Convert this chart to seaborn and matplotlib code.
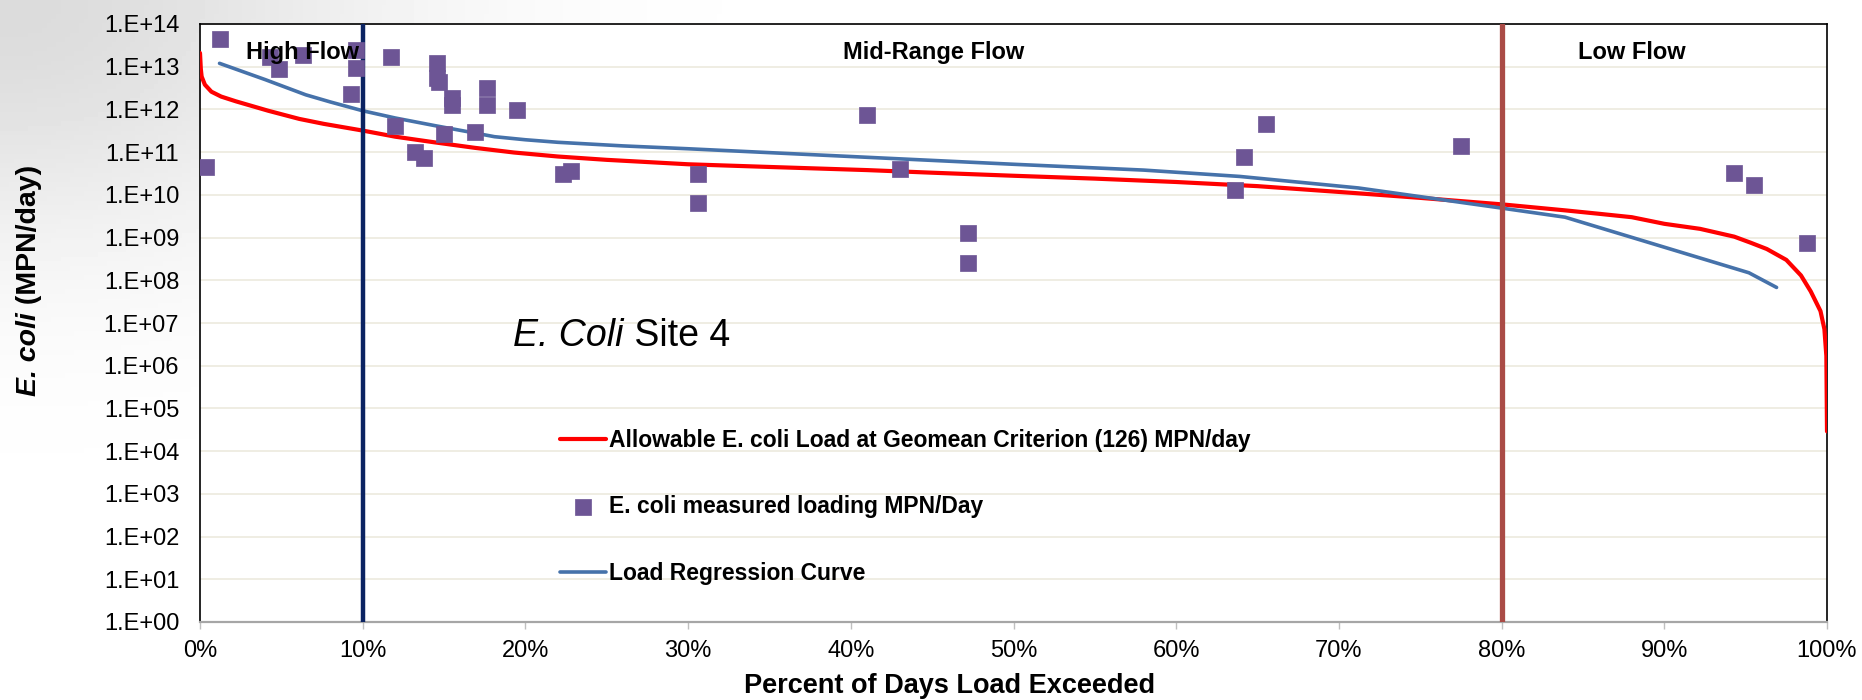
import numpy as np
import pandas as pd
import matplotlib
matplotlib.use("Agg")
import matplotlib.pyplot as plt
from matplotlib.ticker import FixedLocator, FuncFormatter, NullLocator, PercentFormatter
from matplotlib.transforms import IdentityTransform
import seaborn as sns

# measured E. coli loads: percent of days load exceeded vs MPN/day
pct_measured = [0.35, 1.22, 4.3, 4.85, 6.3, 9.3, 9.56, 9.56, 11.76, 12.0, 13.2, 13.76,
                14.56, 14.56, 14.7, 14.98, 15.5, 15.5, 16.9, 17.66, 17.66, 19.5,
                22.3, 22.8, 30.6, 30.6, 41.0, 43.0, 47.2, 47.2,
                63.6, 64.15, 65.5, 77.5, 94.3, 95.5, 98.8]
load_measured = [4.5e10, 4.4e13, 1.7e13, 8.7e12, 1.9e13, 2.3e12, 2.4e13, 9.5e12, 1.7e13, 4.2e11,
                 1.0e11, 7.2e10, 1.2e13, 5.4e12, 4.5e12, 2.6e11, 1.9e12, 1.3e12, 3.0e11, 3.2e12,
                 1.3e12, 9.5e11, 3.1e10, 3.7e10, 3.1e10, 6.6e9, 7.4e11, 4.0e10, 1.3e9, 2.5e8,
                 1.3e10, 7.9e10, 4.6e11, 1.4e11, 3.2e10, 1.7e10, 7.6e8]

# allowable load curve (geomean criterion 126)
pct_allow = [0, 0.05, 0.1, 0.3, 0.7, 1.3, 2.2, 4.2, 6.1, 7.6, 10, 12, 14.4, 16.9, 19.3, 22,
             25, 30, 35, 41, 45, 50, 55, 60, 65, 71, 75, 80, 84, 86, 88, 90, 92.2, 94.3,
             95.3, 96.3, 97.5, 98.4, 99.0, 99.6, 99.84, 99.96, 100]
load_allow = [2.1e13, 8.9e12, 5.9e12, 3.8e12, 2.6e12, 2.0e12, 1.55e12, 9.3e11, 6.0e11, 4.6e11,
              3.2e11, 2.3e11, 1.7e11, 1.26e11, 9.8e10, 7.9e10, 6.6e10, 5.2e10, 4.5e10, 3.8e10,
              3.3e10, 2.8e10, 2.4e10, 2.0e10, 1.6e10, 1.1e10, 8.5e9, 6.0e9, 4.3e9, 3.6e9,
              3.0e9, 2.1e9, 1.6e9, 1.05e9, 7.6e8, 5.4e8, 3.0e8, 1.3e8, 5.5e7, 1.9e7,
              7.2e6, 1.7e6, 2.9e4]

# load regression curve
pct_regr = [1.2, 4.0, 6.5, 8.0, 10, 12, 14.4, 16.9, 18.1, 20, 22, 26, 30, 40, 50, 58,
            63.9, 71.2, 80, 83.9, 95.2, 96.9]
load_regr = [1.2e13, 5.0e12, 2.2e12, 1.5e12, 9.3e11, 6.3e11, 4.2e11, 2.8e11, 2.3e11, 1.95e11,
             1.7e11, 1.4e11, 1.2e11, 7.9e10, 5.2e10, 3.8e10, 2.7e10, 1.45e10, 4.9e9, 3.0e9,
             1.5e8, 6.8e7]

zone_bounds = [10, 80]
zone_names = ["High Flow", "Mid-Range Flow", "Low Flow"]

allow_df = pd.DataFrame({"pct": pct_allow, "load": load_allow})
meas_df = pd.DataFrame({"pct": pct_measured, "load": load_measured})
regr_df = pd.DataFrame({"pct": pct_regr, "load": load_regr})

sns.set_theme(style="white")
plt.rcParams["font.family"] = ["Liberation Sans", "DejaVu Sans"]
plt.rcParams["text.color"] = "black"
plt.rcParams["axes.labelcolor"] = "black"

W, H = 1862, 700
fig = plt.figure(figsize=(W / 100, H / 100), dpi=100)
fig.patch.set_facecolor("white")

# light grey slide shading in the top-left corner
bg = fig.add_axes([0, 0, 1, 1], zorder=-10)
gx, gy = np.meshgrid(np.linspace(0, W, 400), np.linspace(0, H, 150))
shade = 1 - 0.14 * np.exp(-((gx / 380) ** 2 + (gy / 240) ** 2))
bg.imshow(shade, cmap="gray", vmin=0, vmax=1, extent=(0, W, H, 0), aspect="auto")
bg.axis("off")

ax = fig.add_axes([200 / W, 1 - 622 / H, 1627 / W, 598 / H])
ax.set_facecolor("white")

sns.lineplot(data=allow_df, x="pct", y="load", ax=ax, color="#ff0000", lw=3,
             label="Allowable E. coli Load at Geomean Criterion (126) MPN/day", zorder=3)
sns.lineplot(data=regr_df, x="pct", y="load", ax=ax, color="#4672aa", lw=2.6,
             label="Load Regression Curve", zorder=4)
for b, c, w in zip(zone_bounds, ["#0b2362", "#aa4b46"], [3.2, 3.8]):
    ax.axvline(b, color=c, lw=w, zorder=5)
sns.scatterplot(data=meas_df, x="pct", y="load", ax=ax, marker="s", s=120,
                color="#6d5595", edgecolor="#6d5595", linewidth=0.5,
                label="E. coli measured loading MPN/Day", zorder=6)

ax.set_yscale("log")
ax.set_ylim(1, 1e14)
ax.set_xlim(0, 100)
ax.yaxis.set_major_locator(FixedLocator(10.0 ** np.arange(0, 15)))
ax.yaxis.set_minor_locator(NullLocator())
ax.yaxis.set_major_formatter(FuncFormatter(lambda v, p: "1.E+%02d" % int(round(np.log10(v)))))
ax.xaxis.set_major_locator(FixedLocator(np.arange(0, 101, 10)))
ax.xaxis.set_major_formatter(PercentFormatter(100, decimals=0))
ax.grid(axis="y", color="#eeece1", lw=1.3)
ax.set_axisbelow(True)
ax.tick_params(axis="y", length=0, pad=15, labelsize=17, labelcolor="black")
ax.tick_params(axis="x", length=5, width=1, color="#bfbfbf", pad=8, labelsize=17,
               labelcolor="black", direction="out", bottom=True)
for side in ["left", "top", "right"]:
    ax.spines[side].set_color("black")
    ax.spines[side].set_linewidth(1.2)
ax.spines["bottom"].set_color("#a6a6a6")
ax.spines["bottom"].set_linewidth(1.6)

ax.set_ylabel("")
ax.set_xlabel("Percent of Days Load Exceeded", fontsize=19.5, fontweight="bold",
              va="center", color="black")
ax.xaxis.set_label_coords((950 - 200) / 1627, -(686 - 622) / 598)

# flow zone captions
for name, xc in zip(zone_names, [6.3, 45.1, 88.0]):
    ax.text(xc, 1 - 35 / 598, name, transform=ax.get_xaxis_transform(), ha="center",
            va="baseline", fontsize=17, fontweight="bold", color="black", zorder=8)

# legend
h, l = ax.get_legend_handles_labels()
order = [l.index("Allowable E. coli Load at Geomean Criterion (126) MPN/day"),
         l.index("E. coli measured loading MPN/Day"),
         l.index("Load Regression Curve")]
leg = ax.legend([h[i] for i in order], [l[i] for i in order], loc="center left",
                bbox_to_anchor=(560 / W, 1 - 506.7 / H), bbox_transform=fig.transFigure,
                frameon=False, borderpad=0, borderaxespad=0, handlelength=2.0,
                handletextpad=0.15, labelspacing=1.9, prop={"weight": "bold", "size": 16.5})
for t in leg.get_texts():
    t.set_color("black")

# texts with mixed italic / upright runs, laid out run by run in pixels
renderer = fig.canvas.get_renderer()


def runs(x0, y0, parts, rotation=0):
    x, y = x0, y0
    for txt, kw in parts:
        t = fig.text(x, y, txt, transform=IdentityTransform(), rotation=rotation,
                     rotation_mode="anchor", ha="left", va="baseline", color="black", **kw)
        bb = t.get_window_extent(renderer)
        if rotation == 90:
            y += bb.height
        else:
            x += bb.width


runs(513, H - 346, [("E. Coli", dict(fontsize=27, style="italic")),
                    (" Site 4", dict(fontsize=27))])
runs(36, H - 396, [("E. coli", dict(fontsize=20.5, style="italic", weight="bold")),
                   (" (MPN/day)", dict(fontsize=20.5, weight="bold"))], rotation=90)

fig.savefig("out.png", dpi=100)
